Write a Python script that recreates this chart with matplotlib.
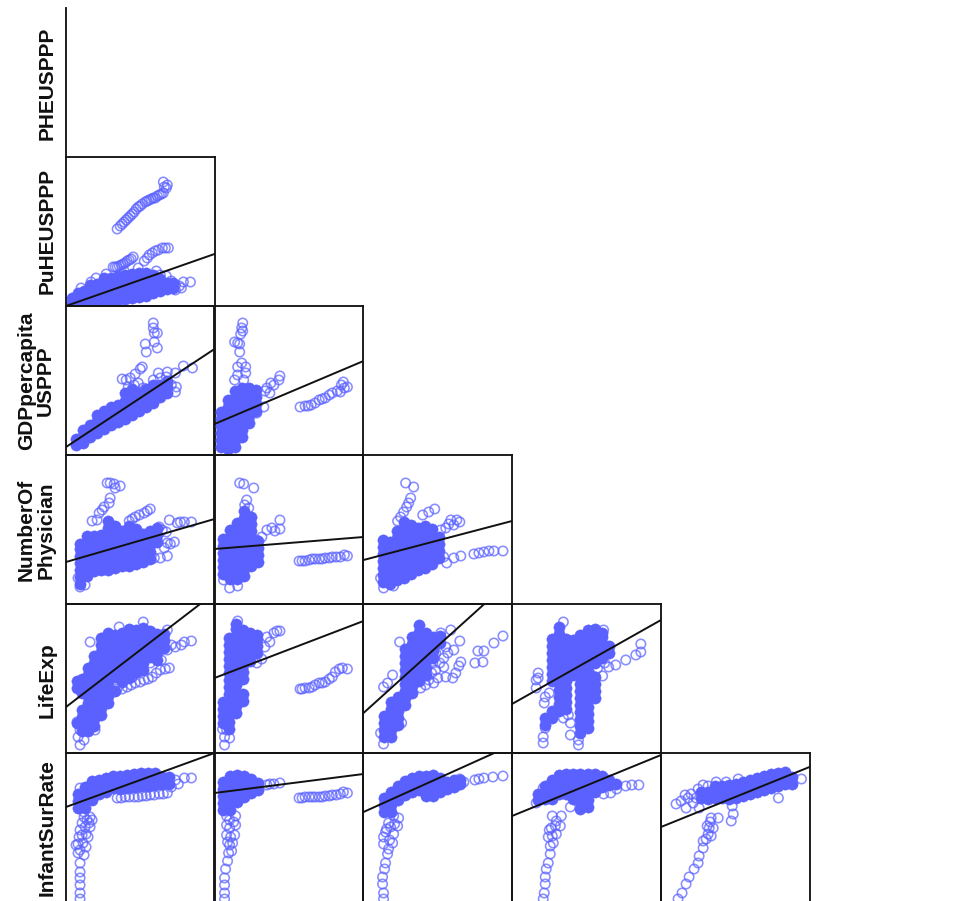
import numpy as np
import matplotlib
matplotlib.use("Agg")
import matplotlib.pyplot as plt

W, H = 954, 901
COL_X = [66, 214.5, 363.5, 512, 661, 809.5]
ROW_Y = [8, 157, 306, 455, 604, 753, 902]
LABELS = ["PHEUSPPP", "PuHEUSPPP", "GDPpercapita\nUSPPP", "NumberOf\nPhysician", "LifeExp", "InfantSurRate"]
LABEL_Y = [83, 231, 381, 530, 680, 828]

# In panel units (x from panel left, y from panel bottom).
# *_RING: individually visible points.  *_DENSE: columns (x, [y...]) in the overplotted clouds.
# LINE: fitted line as (value at x=0, value at x=148).
P10_RING = [(51,77),(54,80),(56,82),(58,84),(60,86),(62,88),(64,90),(66,92),(68,94),(70,97),(72,99),(74,100),(76,102),(79,104),(81,105),(83,106),(85,107),(87,108),(89,108),(91,110),(93,111),(95,112),(97,113),(100,118),(97,124),(101,121),(98,119),
            (47,39),(49,39),(51,39),(53,40),(55,41),(57,42),(59,43),(61,45),(63,46),(65,47),(67,49),(78,45),(81,48),(83,51),(86,53),(89,55),(92,56),(96,58),(99,58),(102,58),(124,24),(117,24),(109,21),(109,16),(94,31),(100,22),(88,28),(105,25),(113,20),(100,30),(115,18),(90,35),(72,38),(58,35),(40,32),(25,24),(15,18),(30,28)]
P10_DENSE = [(6,[3,8]),(12,[3,8,13]),(18,[3,9,15]),(24,[3,9,15,21]),(31,[4,10,16,22]),(38,[5,11,17,23,28]),(45,[5,11,17,23,28]),(52,[6,12,18,24,30]),
             (59,[7,13,19,25,31]),(66,[8,14,20,26,32]),(73,[9,15,21,27,33]),(80,[10,16,22,28,33]),(87,[13,19,25,31]),(94,[15,21,27]),(101,[17,23]),(107,[18,23])]
P10_LINE = (0, 52)

P20_RING = [(87,132),(87,127),(88,122),(91,122),(88,113),(91,107),(79,111),(80,103),(76,88),(74,86),(69,81),(64,77),(56,76),(60,75),(126,87),(117,89),(109,82),(101,83),(109,63),(94,77),(87,75),(77,67),(87,53),(105,70),(100,78),(110,68),(92,82),(68,70),(72,72),(62,68)]
P20_DENSE = [(10,[10,16]),(17,[12,19,25]),(24,[18,24,30]),(31,[22,28,34,40]),(38,[26,32,38,44]),(45,[30,36,42,48]),(52,[33,39,45,50]),(59,[36,42,48,54,62]),
             (66,[40,46,52,58,66]),(73,[44,50,56,62]),(80,[48,54,60,66]),(87,[52,58,64,70]),(94,[58,64,70]),(101,[62,68,74])]
P20_LINE = (8, 106)

P21_RING = [(28,132),(27,127),(26,121),(28,124),(20,113),(23,112),(25,111),(25,103),(23,88),(31,88),(27,92),(20,75),(31,82),(29,75),(23,80),(65,79),(64,75),(59,70),(52,67),(55,62),(49,48),(42,42),(56,72),(50,64),
            (85,48),(90,49),(93,49),(96,50),(100,52),(104,55),(107,56),(110,57),(114,60),(117,62),(122,64),(128,73),(132,68),(125,63),(129,67),(126,70)]
P21_DENSE = [(6,[8,15,22,29,36,43]),(13,[6,13,20,27,34,41,48,55]),(20,[8,15,22,29,36,43,50,57,64]),(27,[18,25,32,39,46,53,60,67]),(34,[32,39,46,53,60,67]),(41,[44,51,58,65])]
P21_LINE = (31, 94)

P30_RING = [(41,121),(44,121),(48,120),(54,118),(49,116),(44,106),(43,101),(38,97),(36,94),(33,91),(26,83),(31,84),(84,95),(81,93),(78,91),(73,89),(69,87),(66,85),(63,83),(103,84),(111,81),(118,82),(125,82),(114,82),(93,77),(108,62),(104,60),(101,61),(101,48),(94,46),(88,46),(98,56),(96,74),(100,72),(14,17),(19,19),(12,26)]
P30_DENSE = [(14,[20,27,34,41,48,55,60]),(21,[28,35,42,49,56,63,68]),(28,[33,40,47,54,61,68]),(35,[34,41,48,55,62,69]),(42,[34,41,48,55,62,69,76,83]),(49,[36,43,50,57,64,71,78]),
             (56,[38,45,52,59,66,73]),(63,[38,45,52,59,66,73,78]),(70,[40,47,54,61,68,75]),(77,[42,49,56,63,70]),(84,[45,52,59,66,73]),(91,[62,69,76])]
P30_LINE = (42, 85)

P31_RING = [(29,120),(25,121),(39,116),(32,104),(30,99),(34,96),(65,84),(65,75),(57,76),(52,74),(47,67),(42,64),(60,73),(84,43),(87,43),(90,43),(94,44),(97,45),(100,45),(104,45),(107,45),(110,46),(114,46),(117,47),(121,47),(125,47),(132,48),(129,49),(15,16),(23,18),(9,24)]
P31_DENSE = [(8,[30,37,44,51,58,65]),(15,[25,32,39,46,53,60,67,74]),(22,[25,32,39,46,53,60,67,74,81]),(29,[28,35,42,49,56,63,70,77,86,93]),(36,[38,45,52,59,66,73,80,87]),(43,[42,49,56,63])]
P31_LINE = (55, 67)

P32_RING = [(42,121),(50,117),(47,106),(45,101),(43,97),(40,92),(34,83),(37,87),(71,95),(65,92),(59,89),(87,84),(96,82),(90,79),(82,76),(77,74),(97,48),(90,46),(83,41),(80,47),(110,50),(120,52),(130,53),(139,53),(115,51),(125,53),(20,16),(30,18),(17,26),(85,80),(93,84)]
P32_DENSE = [(19,[22,29,36,43,50,57,64]),(26,[20,27,34,41,48,55,62]),(33,[24,31,38,45,52,59,66,73]),(40,[26,33,40,47,54,61,68,75,82]),(47,[30,37,44,51,58,65,72,79]),
             (54,[34,41,48,55,62,69,76]),(61,[36,43,50,57,64,71,78]),(68,[40,47,54,61,68,75]),(75,[46,53,60,67])]
P32_LINE = (44, 83)

P40_RING = [(24,111),(53,126),(77,131),(101,123),(125,112),(118,111),(109,106),(98,114),(103,85),(99,84),(94,83),(90,80),(86,76),(82,74),(78,73),(74,71),(69,70),(65,68),(61,66),(51,64),(56,64),(66,76),(74,83),(84,90),(101,103),(105,108),(14,8),(12,16),(18,13),(14,23),(29,23),(11,31),(115,108),(95,93),(88,96)]
P40_DENSE = [(11,[30,65,72]),(16,[22,29,36,43,60,67,74]),(22,[22,29,36,43,50,57,64,71,78,85]),(28,[27,34,41,48,55,62,69,76,83,90,97]),(35,[38,45,52,59,66,73,80,87,94,101,108,115]),
             (42,[50,57,64,71,78,85,92,99,106,113,120]),(49,[62,76,83,90,97,104,111,118]),(56,[71,78,85,92,99,106,113,120]),(63,[75,82,89,96,103,110,117,124]),(70,[81,88,95,102,109,116,123]),
             (77,[83,90,97,104,111,118,125]),(84,[96,103,110,117,122]),(91,[93,100,107,114,119]),(98,[105,112,119])]
P40_LINE = (46, 160)

P41_RING = [(65,122),(59,120),(62,122),(52,116),(55,111),(50,106),(47,94),(42,90),(23,132),(85,64),(87,64),(90,65),(94,65),(97,66),(100,68),(104,70),(107,70),(110,71),(114,74),(117,76),(120,81),(124,84),(127,85),(132,84),(10,8),(10,16),(12,23),(15,15),(8,24)]
P41_DENSE = [(8,[30,37,44,51]),(14,[24,31,38,45,52,59,66,73,80,87,94,101,108,115]),(21,[40,47,54,61,68,75,82,89,96,103,110,117,124,129]),(28,[52,59,74,81,88,95,102,109,116,123]),(35,[92,99,106,113,120]),(42,[100,107,114,118])]
P41_LINE = (75, 132)

P42_RING = [(36,111),(139,117),(130,110),(120,102),(114,102),(119,91),(111,90),(97,91),(95,87),(96,112),(90,103),(84,100),(82,106),(87,123),(77,120),(89,75),(82,76),(80,86),(72,83),(65,73),(57,65),(69,90),(20,66),(29,78),(24,70),(38,30),(20,9),(17,20),(76,90),(68,80),(74,75),(60,80),(72,100),(80,95),(92,80),(62,68),(70,70)]
P42_DENSE = [(20,[16,23,30,37]),(27,[16,23,30,37,44,51]),(34,[28,35,42,49,56]),(41,[48,55,62,69,76,83,90,97,104]),(48,[60,67,74,81,88,95,102,109,116]),(55,[72,79,86,93,100,107,114,121,128]),(62,[78,85,92,99,106,113,120]),(69,[95,102,109,116]),(76,[110,117])]
P42_LINE = (40, 174)

P43_RING = [(51,131),(91,123),(128,109),(128,101),(123,98),(113,93),(103,88),(96,86),(90,77),(85,85),(92,90),(26,80),(24,73),(24,65),(26,75),(33,56),(37,60),(31,10),(31,16),(33,25),(58,18),(66,8),(66,13),(58,30),(56,38),(51,35),(32,50)]
P43_DENSE = [(33,[28,35]),(40,[35,42,72,79,86,93,100,107,114]),(47,[42,49,56,63,70,77,84,91,98,105,112,119,126]),(54,[44,51,58,65,72,79,86,93,100,107,114]),(61,[78,85,92,99,106,113]),
             (68,[20,27,34,41,48,55,62,69,76,83,90,97,104,111,118]),(75,[25,32,39,46,53,60,67,74,81,88,95,102,109,116,123]),(82,[55,62,69,76,90,97,104,111,118,124]),(89,[95,102,109,116,120]),(96,[100,107])]
P43_LINE = (49, 133)

P50_RING = [(14,3),(14,9),(14,17),(14,24),(14,30),(14,39),(12,49),(10,57),(13,65),(14,72),(16,79),(18,85),(24,85),(24,75),(22,65),(20,55),(18,47),(19,75),(17,59),(14,52),(21,82),(20,68),(16,67),(12,58),(23,79),(26,82),(18,90),
            (51,104),(55,104),(59,105),(63,105),(68,105),(72,105),(76,106),(80,106),(84,107),(88,107),(93,108),(97,108),(101,109),(125,124),(118,124),(109,122),(14,114),(112,118),(105,115)]
P50_DENSE = [(12,[94,101,108]),(19,[94,101,108,115]),(26,[102,109,116,121]),(33,[108,115,122]),(40,[110,117,124]),(47,[114,121,126]),(54,[113,120,126]),(61,[114,121,127]),(68,[115,122,128]),(75,[116,123,129]),(82,[116,123,129]),(89,[117,124,129]),(96,[118,125]),(103,[118,125])]
P50_LINE = (95, 149)

P51_RING = [(10,3),(10,9),(10,17),(10,24),(11,33),(13,41),(14,49),(15,57),(12,67),(12,77),(12,86),(21,86),(21,77),(20,67),(18,59),(17,51),(15,74),(19,80),(15,82),(13,60),(16,65),(65,119),(59,118),(52,117),(55,118),(84,104),(87,104),(90,105),(94,105),(97,105),(100,105),(104,105),(107,105),(110,106),(114,106),(117,107),(121,107),(125,108),(132,109),(128,110)]
P51_DENSE = [(8,[92,99,106,113,120]),(15,[92,99,106,113,120,126]),(22,[100,107,114,121,127]),(29,[105,112,119,126]),(36,[109,116,123]),(43,[112,119])]
P51_LINE = (109, 128)

P52_RING = [(20,3),(20,9),(19,18),(19,25),(21,33),(22,39),(24,48),(20,58),(20,65),(23,73),(25,79),(30,86),(35,84),(34,76),(30,68),(29,59),(25,53),(27,75),(31,78),(22,70),(26,62),(111,122),(120,124),(129,125),(139,126),(115,123),(96,123),(100,120)]
P52_DENSE = [(20,[90,97,104]),(27,[90,97,104,110]),(34,[102,109,116]),(41,[107,114,121]),(48,[110,117,124]),(55,[112,119,126]),(62,[106,113,120,126]),(69,[106,113,120,127]),(76,[110,117,124]),(83,[113,120]),(90,[115,122]),(96,[118,122])]
P52_LINE = (90, 157)

P53_RING = [(31,3),(32,9),(33,18),(33,25),(34,33),(36,39),(38,48),(38,56),(36,65),(39,74),(40,86),(49,86),(48,76),(44,68),(41,59),(44,81),(40,66),(37,72),(43,76),(58,95),(126,117),(113,116),(104,113),(91,108),(98,109),(119,117),(24,99),(31,114)]
P53_DENSE = [(26,[102,108]),(33,[103,110,116]),(40,[103,110,117,122]),(47,[108,115,122,127]),(54,[108,115,122,128]),(61,[103,110,117,124,128]),(68,[93,100,107,114,121,128]),(75,[95,102,109,116,123,128]),(82,[110,117,124,128]),(89,[115,122,126]),(96,[117,122]),(103,[118])]
P53_LINE = (86, 147)

P54_RING = [(17,3),(21,9),(25,18),(28,25),(33,33),(37,39),(38,46),(42,54),(45,63),(48,74),(50,84),(57,84),(52,74),(47,68),(42,61),(46,76),(50,66),(49,80),(70,81),(72,88),(71,96),(117,104),(15,98),(20,101),(25,94),(27,104),(32,99),(37,113),(47,116),(38,94),(77,123),(140,123),(24,107),(30,108),(35,104),(42,117),(55,120),(65,120)]
P54_DENSE = [(40,[104,110]),(47,[103,110]),(54,[104,111,116]),(61,[104,111,116]),(68,[103,110,117]),(75,[104,111,118]),(82,[106,113,120]),(89,[108,115,122]),(96,[110,117,124]),(103,[112,119,126]),(110,[114,121,128]),(117,[116,123,129]),(124,[118,125,130]),(131,[118,125])]
P54_LINE = (75, 135)

PANELS = {
    (1, 0): (P10_RING, P10_DENSE, P10_LINE),
    (2, 0): (P20_RING, P20_DENSE, P20_LINE), (2, 1): (P21_RING, P21_DENSE, P21_LINE),
    (3, 0): (P30_RING, P30_DENSE, P30_LINE), (3, 1): (P31_RING, P31_DENSE, P31_LINE), (3, 2): (P32_RING, P32_DENSE, P32_LINE),
    (4, 0): (P40_RING, P40_DENSE, P40_LINE), (4, 1): (P41_RING, P41_DENSE, P41_LINE), (4, 2): (P42_RING, P42_DENSE, P42_LINE), (4, 3): (P43_RING, P43_DENSE, P43_LINE),
    (5, 0): (P50_RING, P50_DENSE, P50_LINE), (5, 1): (P51_RING, P51_DENSE, P51_LINE), (5, 2): (P52_RING, P52_DENSE, P52_LINE), (5, 3): (P53_RING, P53_DENSE, P53_LINE), (5, 4): (P54_RING, P54_DENSE, P54_LINE),
}

BLUE = "#5a61ff"
plt.rcParams["font.family"] = ["Liberation Sans", "DejaVu Sans"]
fig = plt.figure(figsize=(W / 100, H / 100), dpi=100, facecolor="white")


def make_axes(r, c):
    x0, x1 = COL_X[c], COL_X[c + 1]
    y0, y1 = ROW_Y[r], ROW_Y[r + 1]
    ax = fig.add_axes([x0 / W, 1 - y1 / H, (x1 - x0) / W, (y1 - y0) / H])
    ax.set_xlim(0, 148)
    ax.set_ylim(0, 149)
    ax.set_xticks([])
    ax.set_yticks([])
    ax.patch.set_alpha(0)
    for s in ax.spines.values():
        s.set_linewidth(1.35)
        s.set_color("#151515")
    return ax


# top-left empty panel shows only its left rule
ax0 = make_axes(0, 0)
for side in ("top", "right", "bottom"):
    ax0.spines[side].set_visible(False)

for (r, c), (ring, dense, line) in PANELS.items():
    ax = make_axes(r, c)
    ax.spines["bottom"].set_visible(r != 5)
    dx = [x for x, ys in dense for _ in ys]
    dy = [y for _, ys in dense for y in ys]
    ax.scatter(dx, dy, s=66, facecolor=BLUE, edgecolor=BLUE, linewidth=0.3, zorder=2, clip_on=True)
    rx, ry = zip(*ring)
    ax.scatter(rx, ry, s=46, facecolor="none", edgecolor=BLUE, linewidth=1.15, alpha=0.72, zorder=3, clip_on=True)
    ax.plot([0, 148], line, color="#111111", linewidth=1.4, zorder=4, clip_on=True)

for label, y in zip(LABELS, LABEL_Y):
    x = 36 if "\n" in label else 47
    fig.text(x / W, 1 - y / H, label, rotation=90, ha="center", va="center", fontsize=15,
             fontweight="bold", linespacing=1.02, color="#111111", multialignment="center")

fig.savefig("out.png", dpi=100, facecolor="white")
